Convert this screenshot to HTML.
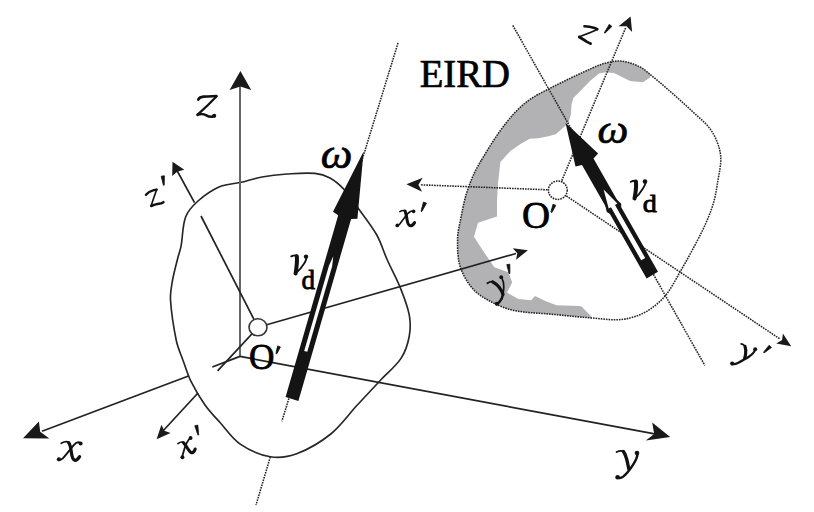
<!DOCTYPE html><html><head><meta charset="utf-8"><style>html,body{margin:0;padding:0;background:#fff;width:814px;height:512px;overflow:hidden}svg{display:block}text{font-family:"Liberation Serif",serif}</style></head><body><svg width="814" height="512" viewBox="0 0 814 512">
<defs>
<clipPath id="rb"><path d="M481.5,160 C487.1,150.6 492.8,141.2 499.1,132.3 C503.9,125.5 509,118.9 514.7,112.8 C519.5,107.7 524.7,103.1 530.4,99.1 C535.9,95.2 542.1,92.4 548,89.3 C553.1,86.6 558.4,84 563.6,81.5 C569,78.8 574.5,76.2 580,73.7 C587.9,70.2 595.7,66 604,63.5 C609.8,61.8 616,60.6 622,61.2 C628.3,61.8 634.3,64.2 640,67 C644.5,69.2 648.1,72.9 652,76 C658.3,81.1 664.4,86.3 670.4,91.6 C678.3,98.5 686.1,105.5 693.8,112.7 C699.4,118 705.6,122.8 710.2,129 C713.9,133.9 716.4,139.7 718.4,145.5 C720,150.1 720.9,155.1 720.8,160 C720.7,166.7 719.1,173.4 718,180 C716.8,187.3 715.8,194.7 713.8,201.9 C711.7,209.4 708.7,216.7 705.6,223.8 C702.3,231.2 698.5,238.4 694.7,245.6 C690.3,253.9 685.7,262.2 681,270.3 C676.2,278.6 671.9,287.3 666,294.9 C661.8,300.2 656.5,304.7 651,308.6 C646.4,311.8 641.3,314.4 636,316.2 C630.4,318.1 624.5,319.4 618.6,319.7 C610.1,320.1 601.7,318.8 593.2,318.1 C579.3,317 565.4,315.5 551.5,314.2 C538.8,313 526,313 513.5,310.4 C505.5,308.7 497.8,305.3 490.6,301.5 C484.2,298.1 477.6,294.3 472.8,288.8 C467.1,282.2 462.5,274.3 460,266 C457.3,257 457.5,247.4 457.6,238 C457.7,231.9 459.3,226 460.5,220 C462.1,211.6 463.6,203.2 466,195 C468,188.2 470.5,181.5 473.4,175 C475.7,169.8 478.6,164.9 481.5,160Z"/></clipPath>
</defs>
<g><rect width="814" height="512" fill="#fff"/>
<g clip-path="url(#rb)"><polygon fill="#b2b2b4" points="440,340 440,150 540,40 650,40 660,60 652,72 650,77.5 643,82.3 630,81 614,73 605.5,72.3 599,73.6 590,81 580,91.3 573.3,98.1 571.4,105 571,114 568.3,123.4 564.6,126.4 555.8,134.3 548.4,136.3 538.2,138.2 529.7,138.7 520.6,144 511,150.4 500.4,162 498,183.2 497,200 497,216.5 478,222.8 474,236.8 483,250.8 494.4,267.3 508.4,272.3 512.2,282.5 507,292.6 518.5,299 531.2,300.3 535,296 546.4,301.5 556.6,305.3 579.4,306 581.5,306.4 591.2,316.2 600,330"/></g>
<path d="M240.2,182.5 C247.5,180.8 254.6,178.3 262,177 C270.3,175.5 278.6,174.6 287,174 C296.3,173.4 305.7,172.5 315,173.4 C320.2,173.9 325.4,175.5 330,178 C335.3,180.9 339.9,185 344,189.4 C349.3,195.1 353.5,201.7 358,208 C364.4,216.9 371.4,225.4 376.8,235 C381.2,242.9 383.6,251.7 387.3,260 C391.2,268.8 396,277.1 399.6,286 C403.3,295.3 407.3,304.7 409.2,314.6 C410.6,321.8 410.5,329.3 409.2,336.5 C407.8,344.2 405.3,351.9 401,358.4 C395.5,366.7 387.3,372.9 380.5,380.2 C372.5,388.7 364.5,397.2 356.6,405.8 C348,415.2 340.7,426 330.8,434 C320.7,442.1 309.4,448.9 297.3,453.5 C288.8,456.7 279.3,458.2 270.3,456.8 C259.7,455.1 249.5,450.4 240.6,444.4 C232.3,438.8 226.7,429.9 220,422.5 C214.8,416.8 209.4,411.3 205,405 C199.6,397.3 194.8,389.1 190.6,380.6 C187.4,374 185.4,366.9 182.9,360 C180.6,353.7 177.8,347.6 176.4,341 C173.6,327.5 171.4,313.8 170.5,300 C170.1,293.8 171.3,287.6 172.3,281.5 C173.6,273.8 175.7,266.3 177.6,258.7 C178.6,254.6 180.2,250.6 181,246.4 C182.9,236.6 182.2,226.2 185.7,216.8 C188,210.5 193,205.5 198,201 C204.3,195.4 211.3,190.4 219,187 C225.6,184.1 233.2,184.1 240.2,182.5Z" fill="none" stroke="#262626" stroke-width="1.65"/>
<path d="M481.5,160 C487.1,150.6 492.8,141.2 499.1,132.3 C503.9,125.5 509,118.9 514.7,112.8 C519.5,107.7 524.7,103.1 530.4,99.1 C535.9,95.2 542.1,92.4 548,89.3 C553.1,86.6 558.4,84 563.6,81.5 C569,78.8 574.5,76.2 580,73.7 C587.9,70.2 595.7,66 604,63.5 C609.8,61.8 616,60.6 622,61.2 C628.3,61.8 634.3,64.2 640,67 C644.5,69.2 648.1,72.9 652,76 C658.3,81.1 664.4,86.3 670.4,91.6 C678.3,98.5 686.1,105.5 693.8,112.7 C699.4,118 705.6,122.8 710.2,129 C713.9,133.9 716.4,139.7 718.4,145.5 C720,150.1 720.9,155.1 720.8,160 C720.7,166.7 719.1,173.4 718,180 C716.8,187.3 715.8,194.7 713.8,201.9 C711.7,209.4 708.7,216.7 705.6,223.8 C702.3,231.2 698.5,238.4 694.7,245.6 C690.3,253.9 685.7,262.2 681,270.3 C676.2,278.6 671.9,287.3 666,294.9 C661.8,300.2 656.5,304.7 651,308.6 C646.4,311.8 641.3,314.4 636,316.2 C630.4,318.1 624.5,319.4 618.6,319.7 C610.1,320.1 601.7,318.8 593.2,318.1 C579.3,317 565.4,315.5 551.5,314.2 C538.8,313 526,313 513.5,310.4 C505.5,308.7 497.8,305.3 490.6,301.5 C484.2,298.1 477.6,294.3 472.8,288.8 C467.1,282.2 462.5,274.3 460,266 C457.3,257 457.5,247.4 457.6,238 C457.7,231.9 459.3,226 460.5,220 C462.1,211.6 463.6,203.2 466,195 C468,188.2 470.5,181.5 473.4,175 C475.7,169.8 478.6,164.9 481.5,160Z" fill="none" stroke="#222" stroke-width="1.55" stroke-dasharray="1.6 1.0"/>
<line x1="240" y1="356.4" x2="240" y2="84" stroke="#666" stroke-width="2.0"/>
<line x1="240" y1="356.4" x2="212.3" y2="367" stroke="#222" stroke-width="1.7"/>
<line x1="188.5" y1="376" x2="42" y2="431.2" stroke="#222" stroke-width="1.7"/>
<line x1="240" y1="356.4" x2="656" y2="434.2" stroke="#222" stroke-width="1.7"/>
<line x1="258" y1="327.3" x2="201" y2="216" stroke="#222" stroke-width="1.7"/>
<line x1="194.5" y1="202.7" x2="177" y2="170.5" stroke="#222" stroke-width="1.7"/>
<line x1="258" y1="327.3" x2="217.6" y2="370.8" stroke="#222" stroke-width="1.7"/>
<line x1="198" y1="393" x2="162" y2="432" stroke="#222" stroke-width="1.7"/>
<line x1="258" y1="327.3" x2="516" y2="253.5" stroke="#222" stroke-width="1.7"/>
<line x1="398" y1="43" x2="281.9" y2="421.2" stroke="#222" stroke-width="1.55" stroke-dasharray="1.6 1.0"/>
<line x1="270.3" y1="457" x2="256" y2="505" stroke="#222" stroke-width="1.55" stroke-dasharray="1.6 1.0"/>
<g fill="#1a1a1a"><polygon points="240.4,71.1 229.6,90.1 240.4,86.6 251.2,90.1"/></g>
<g fill="#1a1a1a"><polygon points="172.5,161.7 172.2,176 177.5,171.5 184.3,169.8"/></g>
<g fill="#1a1a1a"><polygon points="156.6,439.2 170.6,433 164.3,430.7 161.4,424.7"/></g>
<g fill="#1a1a1a"><polygon points="527.9,250.2 512.8,248.3 517.3,253.2 516.1,259.8"/></g>
<line x1="512.8" y1="25.4" x2="704.8" y2="365.4" stroke="#222" stroke-width="1.55" stroke-dasharray="1.6 1.0"/>
<line x1="557.8" y1="190.2" x2="420" y2="184.8" stroke="#222" stroke-width="1.55" stroke-dasharray="1.6 1.0"/>
<line x1="557.8" y1="190.2" x2="626" y2="27" stroke="#222" stroke-width="1.55" stroke-dasharray="1.6 1.0"/>
<line x1="557.8" y1="190.2" x2="780" y2="339" stroke="#222" stroke-width="1.55" stroke-dasharray="1.6 1.0"/>
<g fill="#1a1a1a"><polygon points="406.4,184.2 422.1,191.8 418.4,184.7 422.7,177.8"/></g>
<g fill="#1a1a1a"><polygon points="630.6,16.6 618.6,26.2 626.5,26.3 632.1,31.9"/></g>
<g fill="#1a1a1a"><polygon points="791.2,346.2 782.9,333.4 782.1,340.1 776.2,343.4"/></g>
<ellipse cx="258" cy="327.3" rx="9" ry="8.5" fill="#fff" stroke="#333" stroke-width="1.6"/>
<ellipse cx="557.8" cy="190.2" rx="9.4" ry="9.2" fill="#fff" stroke="#222" stroke-width="1.55" stroke-dasharray="1.6 1.0"/>
<polygon fill="#141414" points="363.6,151.6 333,211.7 338.2,215.2 285.6,397.1 298.4,400.9 351.1,219 357.4,218.7"/>
<polygon fill="#fff" points="333.3,256.3 329,265.5 329,265.5 304.2,351 307.3,351.8 332.1,266.4 332.1,266.4"/>
<polygon fill="#141414" points="565.5,122.7 575.5,166.5 582,165.1 646.6,278.4 658,271.8 593.5,158.5 598.1,153.6"/>
<polygon fill="#141414" points="600.1,183.5 606.8,212 609.8,213.7 621.2,207.2 621.2,203.7"/>
<polygon fill="#fff" points="603.6,189.6 608.7,208.6 611,207.3 641.2,260.3 645.2,258 615,205 617.4,203.6"/>
<text transform="translate(320.80,168.23) rotate(0) skewX(0) scale(1.0704478418511958,1)" font-size="41.91" fill="#000" stroke="#000" stroke-width="0.7" font-style="italic">ω</text>
<text transform="translate(301.58,288.50) rotate(0) skewX(0) scale(1,1)" font-size="27.12" fill="#000" stroke="#000" stroke-width="0.8" >d</text>
<text transform="translate(249.00,369.23) rotate(0) skewX(0) scale(0.9692847740236947,1)" font-size="36.33" fill="#000" stroke="#000" stroke-width="0.8" >O</text>
<text transform="translate(419.70,86.55) rotate(0) skewX(0) scale(0.9919618176883969,1)" font-size="39.04" fill="#000" stroke="#000" stroke-width="0.7" >EIRD</text>
<text transform="translate(597.62,143.27) rotate(0) skewX(0) scale(1.0761364644302873,1)" font-size="40.60" fill="#000" stroke="#000" stroke-width="0.7" font-style="italic">ω</text>
<text transform="translate(642.67,211.90) rotate(0) skewX(0) scale(1.0966166703207418,1)" font-size="25.66" fill="#000" stroke="#000" stroke-width="0.8" >d</text>
<text transform="translate(522.12,228.40) rotate(0) skewX(0) scale(1.0114564787244995,1)" font-size="38.42" fill="#000" stroke="#000" stroke-width="0.8" >O</text>
<polygon fill="#1a1a1a" points="23,438.3 38.9,421.6 40.2,431.8 49.4,438.6"/>
<polygon fill="#1a1a1a" points="670.2,436.9 652.2,422.6 654.2,434 645.8,440.4"/>
<path d="M61.3,443.2 C63.5,442.0 66.5,441.2 68.6,442.2" fill="none" stroke="#111" stroke-width="1.79" stroke-linecap="round" stroke-linejoin="round"/>
<path d="M68.6,442.6 C70.4,444.5 70.9,448.5 71.4,452.5 C71.9,456.5 72.6,459.6 74.6,460.2 C76.4,460.6 78.2,458.8 79.6,456.6" fill="none" stroke="#111" stroke-width="3.25" stroke-linecap="round" stroke-linejoin="round"/>
<path d="M80.4,443.0 C78.6,441.9 76.2,442.4 74.2,444.6 C71.2,448.0 66.4,454.4 62.8,458.4 C61.5,459.6 60.2,460.0 59.0,459.6" fill="none" stroke="#111" stroke-width="1.90" stroke-linecap="round" stroke-linejoin="round"/>
<circle cx="80.6" cy="443.4" r="2.0" fill="#111"/>
<circle cx="58.9" cy="459.3" r="2.1" fill="#111"/>
<path d="M177.9,443.6 C179.5,442.4 181.4,441.6 183.0,442.2" fill="none" stroke="#111" stroke-width="1.68" stroke-linecap="round" stroke-linejoin="round"/>
<path d="M183.4,442.6 C185.2,444.4 187.0,447.6 188.8,450.2 C190.2,452.2 191.6,453.4 193.0,452.4 C194.0,451.6 194.8,450.4 195.2,449.0" fill="none" stroke="#111" stroke-width="3.14" stroke-linecap="round" stroke-linejoin="round"/>
<path d="M190.6,437.8 C189.0,438.8 187.8,440.8 186.6,443.2 C185.2,446.4 183.8,450.6 182.8,454.4 C182.6,455.8 182.5,456.8 182.4,457.4" fill="none" stroke="#111" stroke-width="1.79" stroke-linecap="round" stroke-linejoin="round"/>
<circle cx="190.6" cy="438.0" r="1.9" fill="#111"/>
<circle cx="182.4" cy="457.2" r="2.0" fill="#111"/>
<path d="M194.8,425.7 L197.9,435.1 L198.7,434.9 L197.8,425.1Z" fill="#111" stroke="#111" stroke-width="0.8" stroke-linejoin="round"/>
<path d="M399.8,211.6 C401.4,210.6 403.2,210.2 404.8,210.6" fill="none" stroke="#111" stroke-width="1.57" stroke-linecap="round" stroke-linejoin="round"/>
<path d="M405.0,211.0 C406.0,213.0 406.6,217.0 407.2,220.4 C407.6,223.2 408.4,225.6 410.6,225.8 C412.2,225.8 413.6,224.2 414.6,222.6" fill="none" stroke="#111" stroke-width="3.02" stroke-linecap="round" stroke-linejoin="round"/>
<path d="M413.4,211.2 C411.8,210.6 410.2,211.2 408.6,212.8 C406.0,215.6 402.6,220.2 400.0,223.8 C399.0,225.0 398.0,225.6 397.2,225.6" fill="none" stroke="#111" stroke-width="1.68" stroke-linecap="round" stroke-linejoin="round"/>
<circle cx="413.6" cy="211.4" r="1.8" fill="#111"/>
<circle cx="397.3" cy="225.4" r="1.9" fill="#111"/>
<path d="M423.5,202.0 L421.0,211.2 L421.8,211.6 L426.5,203.2Z" fill="#111" stroke="#111" stroke-width="0.8" stroke-linejoin="round"/>
<path d="M616.6,452.0 C618.6,451.0 621.0,450.6 623.0,451.2" fill="none" stroke="#111" stroke-width="1.79" stroke-linecap="round" stroke-linejoin="round"/>
<path d="M623.4,451.6 C625.4,454.4 626.6,458.6 627.6,463.0 C628.2,466.0 628.6,468.0 628.8,469.0" fill="none" stroke="#111" stroke-width="3.36" stroke-linecap="round" stroke-linejoin="round"/>
<path d="M637.4,453.6 C637.6,456.6 636.0,460.0 633.6,463.8 C630.6,468.6 626.8,473.6 623.2,476.6 C621.4,478.0 619.6,478.4 618.0,477.6" fill="none" stroke="#111" stroke-width="2.46" stroke-linecap="round" stroke-linejoin="round"/>
<circle cx="637.0" cy="453.0" r="2.3" fill="#111"/>
<circle cx="617.6" cy="477.2" r="2.3" fill="#111"/>
<path d="M487.4,283.2 C489.0,282.0 490.8,281.4 492.6,281.6" fill="none" stroke="#111" stroke-width="1.79" stroke-linecap="round" stroke-linejoin="round"/>
<path d="M492.8,281.9 C495.2,283.0 497.4,285.0 499.4,287.6 C501.0,289.8 502.4,292.2 503.0,294.4" fill="none" stroke="#111" stroke-width="3.25" stroke-linecap="round" stroke-linejoin="round"/>
<path d="M501.8,277.8 C503.0,280.0 503.8,283.0 503.8,286.6 C503.8,289.4 503.4,292.0 503.0,294.4" fill="none" stroke="#111" stroke-width="1.68" stroke-linecap="round" stroke-linejoin="round"/>
<path d="M503.0,294.4 C502.6,297.0 501.4,299.6 499.6,301.8 C498.8,302.8 497.8,303.6 497.0,304.0" fill="none" stroke="#111" stroke-width="2.58" stroke-linecap="round" stroke-linejoin="round"/>
<circle cx="501.2" cy="277.2" r="1.9" fill="#111"/>
<circle cx="496.8" cy="303.8" r="2.0" fill="#111"/>
<path d="M506.8,264.6 L509.1,273.7 L509.9,273.5 L509.8,264.2Z" fill="#111" stroke="#111" stroke-width="0.8" stroke-linejoin="round"/>
<path d="M741.2,343.8 C742.4,344.0 743.6,344.6 744.6,345.8" fill="none" stroke="#111" stroke-width="1.79" stroke-linecap="round" stroke-linejoin="round"/>
<path d="M745.0,346.4 C745.8,348.6 746.0,351.2 745.6,354.0 C745.3,356.0 744.9,357.6 744.6,358.4" fill="none" stroke="#111" stroke-width="3.14" stroke-linecap="round" stroke-linejoin="round"/>
<path d="M755.0,350.0 C754.2,352.6 751.8,354.8 748.8,356.8 C745.4,359.0 741.2,361.2 737.8,363.0 C736.0,363.9 734.2,364.2 732.6,364.0" fill="none" stroke="#111" stroke-width="2.24" stroke-linecap="round" stroke-linejoin="round"/>
<circle cx="755.2" cy="349.2" r="2.0" fill="#111"/>
<circle cx="732.2" cy="363.6" r="2.1" fill="#111"/>
<path d="M769.2,345.2 L763.5,352.3 L764.1,352.9 L771.4,347.6Z" fill="#111" stroke="#111" stroke-width="0.8" stroke-linejoin="round"/>
<path d="M198.2,99.6 C199.2,97.6 201.0,96.8 203.4,96.6 C207.4,96.4 212.0,96.4 216.4,96.0" fill="none" stroke="#111" stroke-width="2.58" stroke-linecap="round" stroke-linejoin="round"/>
<path d="M216.4,96.6 C211.0,102.4 203.4,109.6 197.6,114.6" fill="none" stroke="#111" stroke-width="2.24" stroke-linecap="round" stroke-linejoin="round"/>
<path d="M197.6,114.8 C200.6,113.6 203.6,113.8 206.4,115.4 C208.6,116.6 210.6,117.0 212.6,116.6" fill="none" stroke="#111" stroke-width="2.69" stroke-linecap="round" stroke-linejoin="round"/>
<circle cx="214.2" cy="115.8" r="2.1" fill="#111"/>
<path d="M146.0,194.8 C147.8,192.6 150.0,191.2 152.4,190.6 C153.8,190.2 155.2,189.8 156.6,189.6" fill="none" stroke="#111" stroke-width="2.46" stroke-linecap="round" stroke-linejoin="round"/>
<path d="M156.6,189.8 C154.8,194.8 152.8,200.6 151.2,205.8" fill="none" stroke="#111" stroke-width="1.68" stroke-linecap="round" stroke-linejoin="round"/>
<path d="M151.2,206.0 C153.4,205.0 156.0,204.2 158.6,203.8 C160.4,203.6 162.0,203.2 163.4,202.2" fill="none" stroke="#111" stroke-width="2.58" stroke-linecap="round" stroke-linejoin="round"/>
<path d="M161.2,176.2 L163.4,185.2 L164.2,185.2 L164.4,175.8Z" fill="#111" stroke="#111" stroke-width="0.8" stroke-linejoin="round"/>
<path d="M584.4,26.2 C587.6,26.2 591.2,26.8 594.6,28.0 C595.6,28.4 596.6,28.8 597.4,29.2" fill="none" stroke="#111" stroke-width="2.46" stroke-linecap="round" stroke-linejoin="round"/>
<path d="M597.4,29.4 C592.0,31.8 585.0,34.6 579.2,36.8" fill="none" stroke="#111" stroke-width="1.68" stroke-linecap="round" stroke-linejoin="round"/>
<path d="M579.2,37.0 C581.4,38.4 584.0,40.0 586.6,41.6 C588.0,42.4 589.4,43.2 590.6,43.6" fill="none" stroke="#111" stroke-width="2.69" stroke-linecap="round" stroke-linejoin="round"/>
<path d="M609.3,24.3 L604.3,32.8 L604.9,33.2 L611.9,26.5Z" fill="#111" stroke="#111" stroke-width="0.8" stroke-linejoin="round"/>
<path d="M277.6,345.9 L275.9,353.4 L276.9,353.8 L280.4,346.9Z" fill="#111" stroke="#111" stroke-width="0.8" stroke-linejoin="round"/>
<path d="M553.0,204.2 L550.9,212.0 L551.9,212.4 L555.8,205.4Z" fill="#111" stroke="#111" stroke-width="0.8" stroke-linejoin="round"/>
<path d="M291.2,256.4 C292.8,255.6 294.6,255.2 296.6,255.4" fill="none" stroke="#111" stroke-width="1.79" stroke-linecap="round" stroke-linejoin="round"/>
<path d="M296.8,256.2 C297.2,260.0 296.8,265.0 296.2,269.4 C296.0,271.0 295.8,272.4 295.6,273.4" fill="none" stroke="#111" stroke-width="4.03" stroke-linecap="round" stroke-linejoin="round"/>
<path d="M295.6,273.6 C298.6,271.0 301.8,267.4 304.0,263.8 C305.6,261.2 306.6,258.8 306.4,257.0" fill="none" stroke="#111" stroke-width="1.79" stroke-linecap="round" stroke-linejoin="round"/>
<circle cx="306.0" cy="256.6" r="2.2" fill="#111"/>
<path d="M630.8,181.8 C632.4,181.0 634.0,180.6 635.6,180.8" fill="none" stroke="#111" stroke-width="1.79" stroke-linecap="round" stroke-linejoin="round"/>
<path d="M635.9,181.6 C636.4,185.6 635.9,190.4 635.2,194.6 C635.0,196.2 634.7,197.6 634.5,198.4" fill="none" stroke="#111" stroke-width="4.03" stroke-linecap="round" stroke-linejoin="round"/>
<path d="M634.5,198.6 C637.4,196.2 640.4,192.8 642.6,189.0 C644.4,186.2 645.6,183.8 645.6,182.0" fill="none" stroke="#111" stroke-width="1.79" stroke-linecap="round" stroke-linejoin="round"/>
<circle cx="645.0" cy="181.6" r="2.3" fill="#111"/>
</g></svg></body></html>
